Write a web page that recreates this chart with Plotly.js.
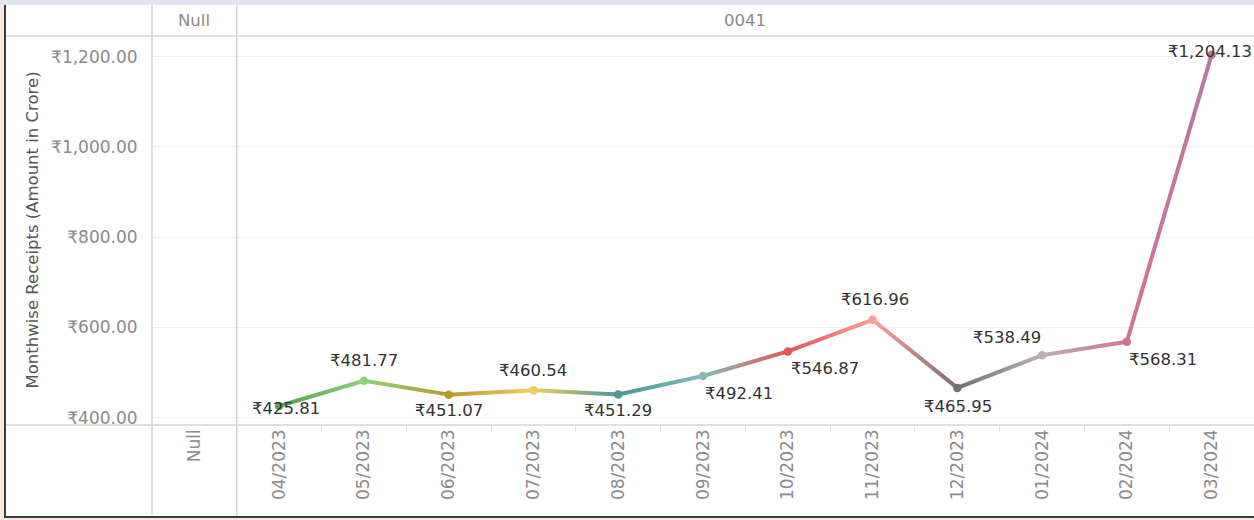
<!DOCTYPE html>
<html>
<head>
<meta charset="utf-8">
<script src="https://cdn.plot.ly/plotly-3.0.1.min.js"></script>
<style>
  html, body { margin: 0; padding: 0; width: 1254px; height: 520px; overflow: hidden; background: #f8e8df; }
  #band { position: absolute; left: 0; top: 0; width: 1254px; height: 5px; background: #e1e5ef; }
  #frame { position: absolute; left: 4px; top: 5px; width: 1250px; height: 511px; border-left: 2px solid #3a3a3a; border-bottom: 2px solid #3a3a3a; background: #ffffff; box-sizing: content-box; }
  #chart { position: absolute; left: 0; top: 0; width: 1248px; height: 511px; }
</style>
</head>
<body>
<div id="band"></div>
<div id="frame"><div id="chart"></div></div>
<script>
// ---- data ----
const categories = ['Null', '04/2023', '05/2023', '06/2023', '07/2023', '08/2023', '09/2023',
                    '10/2023', '11/2023', '12/2023', '01/2024', '02/2024', '03/2024'];
const receipts = [null, 425.81, 481.77, 451.07, 460.54, 451.29, 492.41,
                  546.87, 616.96, 465.95, 538.49, 568.31, 1204.13];
const headerColumns = ['Null', '0041'];
const yTicks = [400, 600, 800, 1000, 1200];

// ---- styles (kept separate from data) ----
const pointColors = [null, '#59a14f', '#8cd17d', '#b6992d', '#f1ce63', '#499894', '#86bcb6',
                     '#e15759', '#ff9d9a', '#79706e', '#bab0ac', '#d37295', '#b07aa1'];
// label offsets in px [xshift, yshift] relative to each point
const labelShift = [null, [7, -2], [0, 20], [0, -16], [0, 20], [0, -16], [36, -18],
                    [37, -17], [2, 20], [1, -19], [-35, 18], [36, -18], [-2, 3]];

const fontFamily = '"DejaVu Sans", "Noto Sans", sans-serif';
const grey = '#8a8a8a';
const lineGrey = '#d6d6d6';

const traces = [];
const segIdx = [];
for (let i = 0; i < categories.length - 1; i++) {
  if (receipts[i] == null || receipts[i + 1] == null) continue;
  segIdx.push(i);
  traces.push({
    type: 'scatter', mode: 'lines',
    x: [categories[i], categories[i + 1]],
    y: [receipts[i], receipts[i + 1]],
    line: { color: pointColors[i], width: 4 },
    hoverinfo: 'skip', showlegend: false, cliponaxis: false
  });
}
traces.push({
  type: 'scatter', mode: 'markers',
  x: categories, y: receipts,
  marker: { color: pointColors.map(c => c || '#000'), size: 8.5 },
  showlegend: false, cliponaxis: false
});

const fmt = v => '₹' + v.toLocaleString('en-US', { minimumFractionDigits: 2, maximumFractionDigits: 2 });

const annotations = [];
categories.forEach((c, i) => {
  if (receipts[i] == null) return;
  annotations.push({
    x: c, y: receipts[i], xref: 'x', yref: 'y', text: fmt(receipts[i]),
    showarrow: false, xanchor: 'center', yanchor: 'middle',
    xshift: labelShift[i][0], yshift: labelShift[i][1],
    font: { family: fontFamily, size: 16.5, color: '#333333' }
  });
});
// header row
annotations.push({ x: 0, y: 1, xref: 'x', yref: 'paper', yanchor: 'middle', yshift: 16,
  text: headerColumns[0], showarrow: false, font: { family: fontFamily, size: 16.5, color: grey } });
annotations.push({ x: (1 + categories.length - 1) / 2, y: 1, xref: 'x', yref: 'paper', yanchor: 'middle', yshift: 16,
  text: headerColumns[1], showarrow: false, font: { family: fontFamily, size: 16.5, color: grey } });
// y-axis title
annotations.push({ x: 0, y: 0.5, xref: 'paper', yref: 'paper', xshift: -120, textangle: -90,
  xanchor: 'center', yanchor: 'middle', showarrow: false,
  text: 'Monthwise Receipts (Amount in Crore)',
  font: { family: fontFamily, size: 16.5, color: '#555555' } });

const W = 1248, H = 511, mL = 146, mT = 31, mB = 91;
const pw = W - mL, ph = H - mT - mB;
const leftPaper = -mL / pw;
const botPaper = -mB / ph, topPaper = 1 + mT / ph;
const sepX = 1 / categories.length;

const shapes = [
  { type: 'line', xref: 'paper', yref: 'paper', x0: leftPaper, x1: 1, y0: 1, y1: 1, line: { color: lineGrey, width: 1.5 } },
  { type: 'line', xref: 'paper', yref: 'paper', x0: leftPaper, x1: 1, y0: 0, y1: 0, line: { color: lineGrey, width: 1.5 } },
  { type: 'line', xref: 'paper', yref: 'paper', x0: 0, x1: 0, y0: botPaper, y1: topPaper, line: { color: lineGrey, width: 1.5 } },
  { type: 'line', xref: 'paper', yref: 'paper', x0: sepX, x1: sepX, y0: botPaper, y1: topPaper, line: { color: lineGrey, width: 1.5 } }
];

const layout = {
  width: W, height: H,
  margin: { l: mL, r: 0, t: mT, b: mB, pad: 0 },
  paper_bgcolor: '#ffffff', plot_bgcolor: '#ffffff',
  font: { family: fontFamily },
  xaxis: {
    type: 'category', categoryorder: 'array', categoryarray: categories,
    range: [-0.5, categories.length - 0.5],
    showgrid: false, zeroline: false, showline: false,
    ticks: 'outside', tickson: 'boundaries', ticklen: 6, tickcolor: '#e2e2e2', tickwidth: 1,
    tickangle: -90, tickfont: { family: fontFamily, size: 17, color: grey },
    fixedrange: true
  },
  yaxis: {
    range: [383.8, 1245.9],
    tickvals: yTicks, ticktext: yTicks.map(fmt),
    showgrid: true, gridcolor: '#f0f0f0', gridwidth: 1,
    zeroline: false, showline: false,
    ticks: 'outside', ticklen: 10, tickcolor: 'rgba(0,0,0,0)',
    tickfont: { family: fontFamily, size: 17, color: grey },
    fixedrange: true
  },
  shapes: shapes,
  annotations: annotations,
  showlegend: false,
  hovermode: false
};

Plotly.newPlot('chart', traces, layout, { displayModeBar: false, staticPlot: true }).then(gd => {
  try {
    const svg = gd.querySelector('svg.main-svg');
    const defs = svg.querySelector('defs');
    const ns = 'http://www.w3.org/2000/svg';
    const traceGroups = gd.querySelectorAll('.scatterlayer .trace');
    segIdx.forEach((i, k) => {
      const path = traceGroups[k] && traceGroups[k].querySelector('path.js-line');
      if (!path) return;
      const nums = (path.getAttribute('d') || '').match(/-?\d+(\.\d+)?/g);
      if (!nums || nums.length < 4) return;
      const [x1, y1] = [nums[0], nums[1]];
      const [x2, y2] = [nums[nums.length - 2], nums[nums.length - 1]];
      const g = document.createElementNS(ns, 'linearGradient');
      g.setAttribute('id', 'seggrad' + k);
      g.setAttribute('gradientUnits', 'userSpaceOnUse');
      g.setAttribute('x1', x1); g.setAttribute('y1', y1);
      g.setAttribute('x2', x2); g.setAttribute('y2', y2);
      [[0, pointColors[i]], [1, pointColors[i + 1]]].forEach(([o, c]) => {
        const s = document.createElementNS(ns, 'stop');
        s.setAttribute('offset', o); s.setAttribute('stop-color', c);
        g.appendChild(s);
      });
      defs.appendChild(g);
      path.style.stroke = 'url(#seggrad' + k + ')';
    });
  } catch (e) { console.log(e); }
});
</script>
</body>
</html>
